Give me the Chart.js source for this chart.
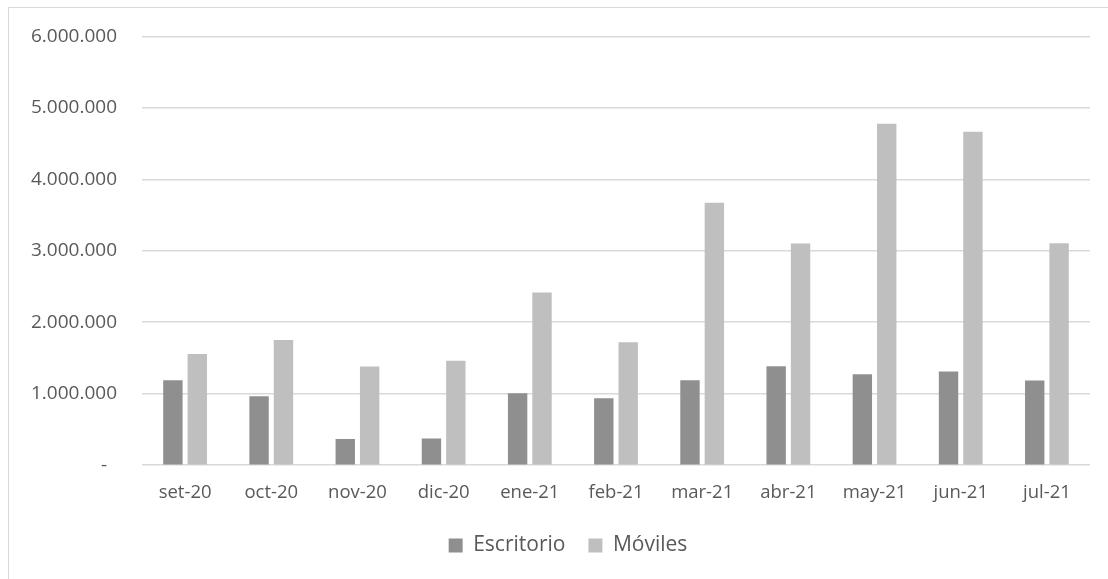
<!DOCTYPE html>
<html>
<head>
<meta charset="utf-8">
<script src="https://cdn.jsdelivr.net/npm/chart.js@4/dist/chart.umd.min.js"></script>
<style>
  html, body { margin: 0; padding: 0; background: #fff; overflow: hidden; width: 1108px; height: 579px; }
  #frame { position: absolute; left: 8px; top: 7px; border-left: 1px solid #d9d9d9; border-top: 1px solid #d9d9d9; width: 1118px; height: 600px; }
  #wrap { position: relative; width: 1118px; height: 558px; }
</style>
</head>
<body>
<div id="frame"><div id="wrap"><canvas id="c"></canvas></div></div>
<script>
const categories = ['set-20','oct-20','nov-20','dic-20','ene-21','feb-21','mar-21','abr-21','may-21','jun-21','jul-21'];
const escritorio = [1190000, 965000, 365000, 375000, 1005000, 935000, 1190000, 1385000, 1272000, 1310000, 1185000];
const moviles = [1555000, 1750000, 1380000, 1460000, 2415000, 1720000, 3672000, 3103000, 4778000, 4665000, 3106000];
const yTicks = [0, 1000000, 2000000, 3000000, 4000000, 5000000, 6000000];
const seriesNames = ['Escritorio', 'Móviles'];

function fmt(v) {
  if (v === 0) return '-  ';
  return String(Math.round(v)).replace(/\B(?=(\d{3})+(?!\d))/g, '.');
}

const txt = '#595959';
const fam = "'Open Sans', sans-serif";

new Chart(document.getElementById('c'), {
  type: 'bar',
  data: {
    labels: categories,
    datasets: [
      { label: seriesNames[0], data: escritorio, backgroundColor: '#8f8f8f', borderWidth: 0,
        categoryPercentage: 0.566, barPercentage: 0.795 },
      { label: seriesNames[1], data: moviles, backgroundColor: '#bfbfbf', borderWidth: 0,
        categoryPercentage: 0.566, barPercentage: 0.795 }
    ]
  },
  options: {
    responsive: true,
    maintainAspectRatio: false,
    animation: false,
    layout: { padding: { top: 28.3, left: 0, right: 0, bottom: 0 } },
    plugins: {
      tooltip: { enabled: false },
      legend: {
        position: 'bottom',
        labels: {
          boxWidth: 14, boxHeight: 14, padding: 23,
          color: txt, font: { family: fam, size: 21 }
        }
      }
    },
    scales: {
      x: {
        grid: { display: false, drawTicks: false },
        border: { display: false },
        ticks: { color: txt, font: { family: fam, size: 18.5 }, padding: 16, autoSkip: false, maxRotation: 0 },
        afterFit: (s) => { s.height = 46.8; s.paddingLeft = 0; s.paddingRight = 0; }
      },
      y: {
        min: 0, max: 6000000,
        afterBuildTicks: (s) => { s.ticks = yTicks.map(v => ({ value: v })); },
        grid: { color: '#d9d9d9', lineWidth: 1.5, drawTicks: false },
        border: { display: false },
        ticks: { color: txt, font: { family: fam, size: 19 }, padding: 25, callback: (v) => fmt(v) },
        afterFit: (s) => { s.width = 133; s.paddingTop = 0; s.paddingBottom = 0; }
      },
      yr: {
        position: 'right',
        display: true,
        grid: { display: false, drawTicks: false },
        border: { display: false },
        ticks: { display: false },
        afterFit: (s) => { s.width = 37; s.paddingTop = 0; s.paddingBottom = 0; }
      }
    }
  }
});
</script>
</body>
</html>
